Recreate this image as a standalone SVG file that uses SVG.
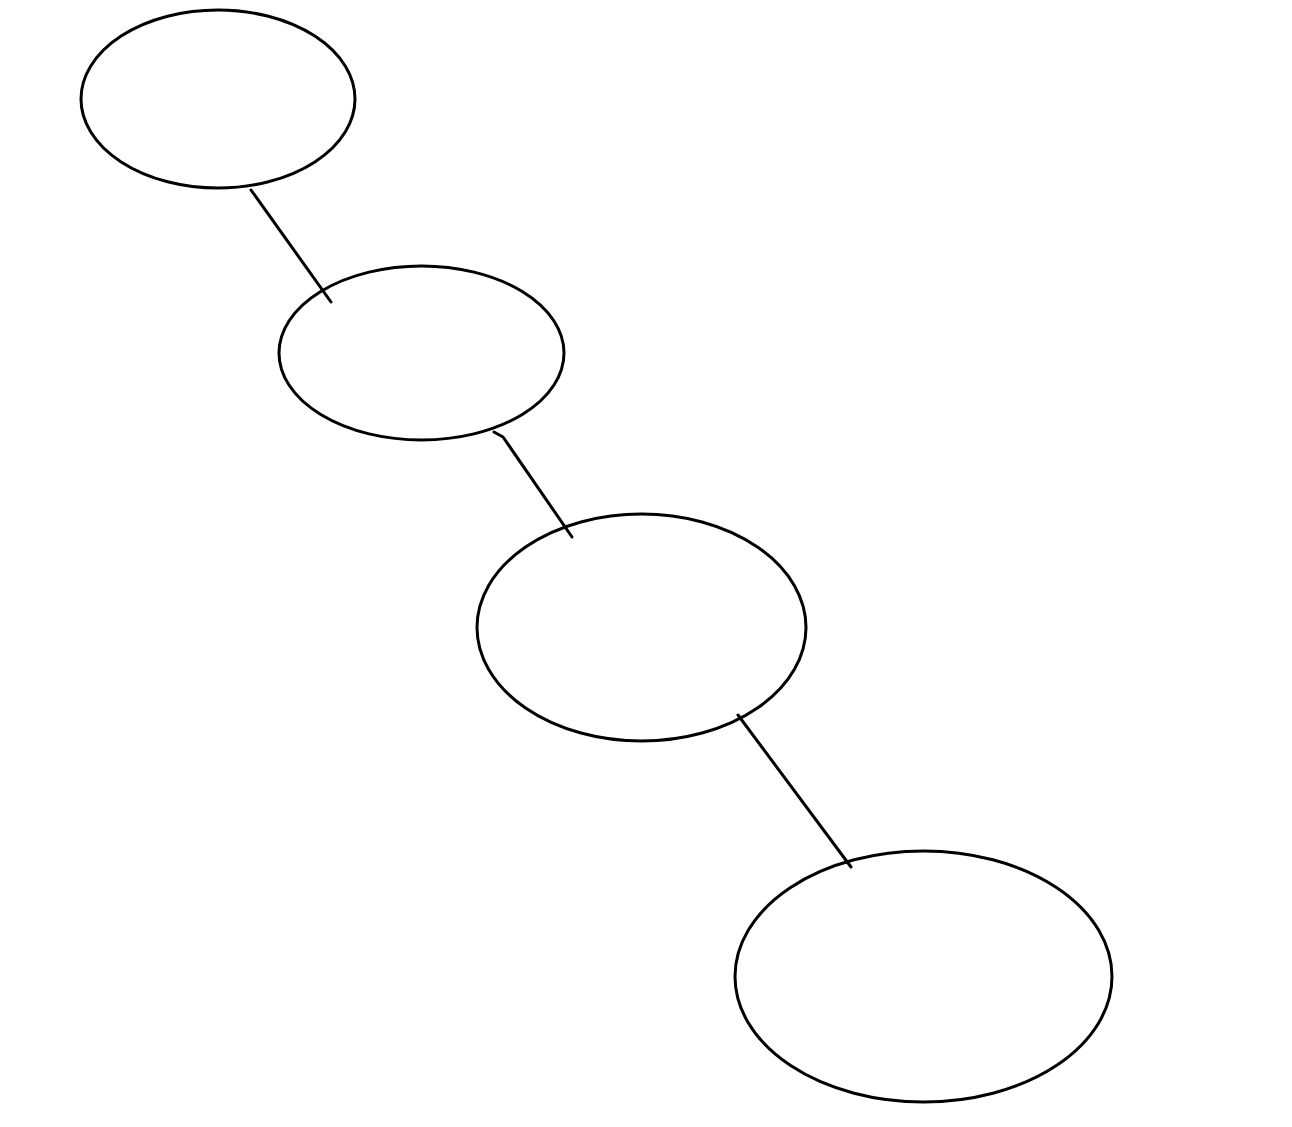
<svg xmlns="http://www.w3.org/2000/svg" width="1292" height="1127" viewBox="0 0 1292 1127">
<style>
.n{fill:none;stroke:#000;stroke-width:3}
.c{fill:none;stroke:#000;stroke-width:3;stroke-linecap:round;stroke-linejoin:round}
</style>
<rect width="1292" height="1127" fill="#fff"/>
<g id="node1"><ellipse class="n" cx="218" cy="99" rx="137" ry="89"/></g>
<g id="node2"><ellipse class="n" cx="421.5" cy="353" rx="142.5" ry="87"/></g>
<g id="node3"><ellipse class="n" cx="641.5" cy="627.5" rx="164.5" ry="113.5"/></g>
<g id="node4"><ellipse class="n" cx="923.5" cy="976.5" rx="188.5" ry="125.5"/></g>
<g id="connectors">
<path class="c" d="M251 190 L331 302"/>
<path class="c" d="M494 432 L503 437 L572 537"/>
<path class="c" d="M738 715 L851 867"/>
</g>
</svg>
